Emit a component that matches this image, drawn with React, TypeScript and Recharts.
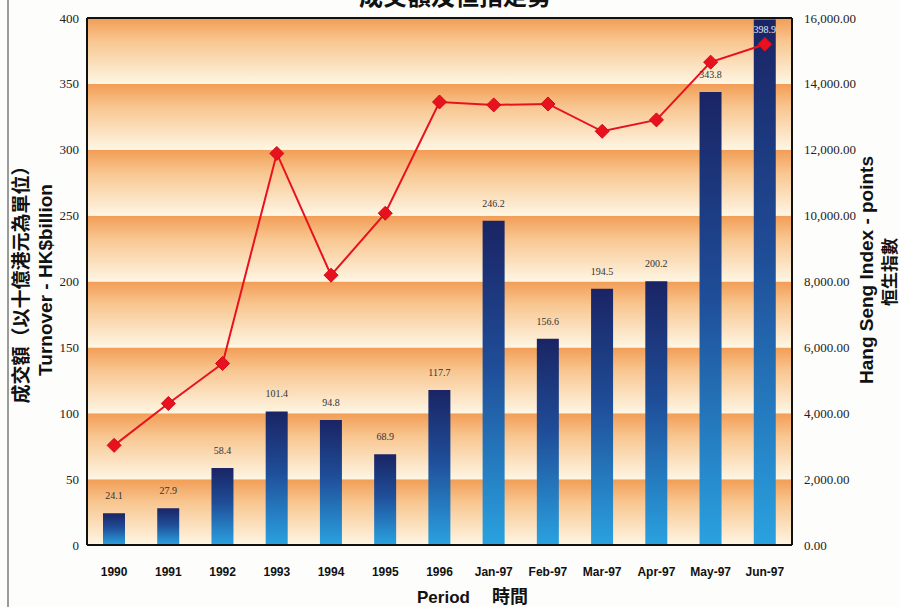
import React from "react";
import {
  ComposedChart, Bar, Line, XAxis, YAxis, ReferenceArea, ReferenceLine, LabelList,
} from "recharts";

const periods = ["1990", "1991", "1992", "1993", "1994", "1995", "1996", "Jan-97", "Feb-97", "Mar-97", "Apr-97", "May-97", "Jun-97"];
const turnover = [24.1, 27.9, 58.4, 101.4, 94.8, 68.9, 117.7, 246.2, 156.6, 194.5, 200.2, 343.8, 398.9];
const hangSeng = [3025, 4297, 5512, 11888, 8191, 10073, 13451, 13362, 13390, 12560, 12907, 14660, 15200];
const leftTicks = [0, 50, 100, 150, 200, 250, 300, 350, 400];
const rightTicks = [0, 2000, 4000, 6000, 8000, 10000, 12000, 14000, 16000];

const data = periods.map((p, i) => ({ period: p, turnover: turnover[i], hsi: hangSeng[i] }));

const SERIF = '"Liberation Serif", "DejaVu Serif", serif';
const SANS = '"Liberation Sans Narrow", "Liberation Sans", Arial, sans-serif';
const ARIAL = '"Liberation Sans", Arial, sans-serif';
const CJK = '"Noto Sans CJK TC", "Noto Sans CJK SC", sans-serif';

const fmtRight = (v: number) =>
  v.toLocaleString("en-US", { minimumFractionDigits: 2, maximumFractionDigits: 2 });

function Diamond(props: any) {
  const { cx, cy, index } = props;
  if (cx == null || cy == null) return null;
  const r = 7;
  return (
    <path
      key={`d-${index}`}
      d={`M${cx},${cy - r} L${cx + r},${cy} L${cx},${cy + r} L${cx - r},${cy} Z`}
      fill="#e8121f"
      stroke="#d00a18"
      strokeWidth={1}
    />
  );
}

function BarValue(props: any) {
  const { x, y, width, value } = props;
  const inside = y < 30;
  return (
    <text
      x={x + width / 2}
      y={inside ? y + 14 : y - 14}
      textAnchor="middle"
      fontFamily={SERIF}
      fontSize={10}
      fill={inside ? "#e8e8f0" : "#333"}
    >
      {value}
    </text>
  );
}

const rotated = (left: number, top: number): React.CSSProperties => ({
  position: "absolute",
  left,
  top,
  transform: "translate(-50%, -50%) rotate(-90deg)",
  whiteSpace: "nowrap",
  fontWeight: 700,
  color: "#111",
  lineHeight: 1,
});

export default function App() {
  return (
    <div style={{ position: "absolute", left: 0, top: 0, width: 900, height: 607, overflow: "hidden", background: "#fdfdfb" }}>
      <div style={{ position: "absolute", left: 7, top: 0, width: 2, height: 607, background: "#9a9a9a" }} />
      <div style={{ position: "absolute", left: 350, top: -23, width: 210, textAlign: "center", fontFamily: CJK, fontWeight: 700, fontSize: 24, color: "#111" }}>
        成交額及恒指走勢
      </div>
      <ComposedChart
        width={900}
        height={607}
        data={data}
        margin={{ top: 18, right: 38, bottom: 32, left: 47 }}
      >
        <defs>
          <linearGradient id="band" x1="0" y1="0" x2="0" y2="1">
            <stop offset="0%" stopColor="#f29d55" />
            <stop offset="35%" stopColor="#f8c690" />
            <stop offset="100%" stopColor="#fef6e4" />
          </linearGradient>
          <linearGradient id="barGrad" x1="0" y1="0" x2="0" y2="1">
            <stop offset="0%" stopColor="#1a2464" />
            <stop offset="45%" stopColor="#1f4d98" />
            <stop offset="100%" stopColor="#2aa2e0" />
          </linearGradient>
        </defs>
        {leftTicks.slice(0, -1).map((t, i) => (
          <ReferenceArea
            key={t}
            yAxisId="left"
            y1={t}
            y2={leftTicks[i + 1]}
            fill="url(#band)"
            fillOpacity={1}
            stroke="none"
            ifOverflow="visible"
          />
        ))}
        <XAxis
          dataKey="period"
          height={30}
          tickLine={false}
          axisLine={{ stroke: "#111", strokeWidth: 2 }}
          tick={{ fontFamily: SANS, fontWeight: 700, fontSize: 12, fill: "#111" }}
          tickMargin={16}
          interval={0}
        />
        <YAxis
          yAxisId="left"
          width={40}
          domain={[0, 400]}
          ticks={leftTicks}
          tickLine={false}
          axisLine={{ stroke: "#111", strokeWidth: 2 }}
          tick={{ fontFamily: SERIF, fontSize: 13, fill: "#222" }}
          tickMargin={2}
        />
        <YAxis
          yAxisId="right"
          orientation="right"
          width={70}
          domain={[0, 16000]}
          ticks={rightTicks}
          tickFormatter={fmtRight}
          tickLine={false}
          axisLine={{ stroke: "#111", strokeWidth: 2 }}
          tick={{ fontFamily: SERIF, fontSize: 13, fill: "#222" }}
          tickMargin={6}
        />
        <ReferenceLine yAxisId="left" y={400} stroke="#111" strokeWidth={2} ifOverflow="visible" />
        <Bar yAxisId="left" dataKey="turnover" fill="url(#barGrad)" barSize={22} isAnimationActive={false}>
          <LabelList dataKey="turnover" content={BarValue} />
        </Bar>
        <Line
          yAxisId="right"
          dataKey="hsi"
          type="linear"
          stroke="#e8121f"
          strokeWidth={2}
          dot={Diamond}
          activeDot={false}
          isAnimationActive={false}
        />
      </ComposedChart>
      <div style={{ ...rotated(19, 280), fontFamily: CJK, fontSize: 19 }}>
        成交額（以十億港元為單位）
      </div>
      <div style={{ ...rotated(45, 280), fontFamily: ARIAL, fontSize: 19 }}>
        Turnover - HK$billion
      </div>
      <div style={{ ...rotated(866, 270), fontFamily: ARIAL, fontSize: 19 }}>
        Hang Seng Index - points
      </div>
      <div style={{ ...rotated(888, 272), fontFamily: CJK, fontSize: 17 }}>
        恒生指數
      </div>
      <div style={{ position: "absolute", left: 417, top: 585, whiteSpace: "nowrap", fontFamily: ARIAL, fontWeight: 700, fontSize: 17, lineHeight: "20px", color: "#111" }}>
        Period
        <span style={{ marginLeft: 22, fontFamily: CJK, fontSize: 18, lineHeight: "20px" }}>時間</span>
      </div>
    </div>
  );
}
